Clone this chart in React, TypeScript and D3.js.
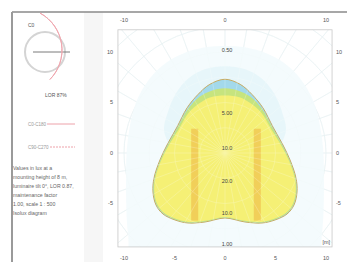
import React from "react";
import * as d3 from "d3";

const W = 347;
const H = 262;

// isolux contours, metres (x, y)
const outerContour: [number, number][] = [
  [0, 10.6], [3.5, 10.1], [6.5, 8.4], [8.6, 5.5], [9.6, 1.5], [9.8, -3], [9.6, -8], [9.0, -11],
  [0, -11.5], [-9.0, -11], [-9.6, -8], [-9.8, -3], [-9.6, 1.5], [-8.6, 5.5], [-6.5, 8.4], [-3.5, 10.1],
];
const haloContour: [number, number][] = [
  [0, 8.6], [2.0, 8.3], [3.6, 7.4], [4.8, 6.0], [5.6, 4.2], [6.0, 2.0], [4.5, 0],
  [-4.5, 0], [-6.0, 2.0], [-5.6, 4.2], [-4.8, 6.0], [-3.6, 7.4], [-2.0, 8.3],
];
const blueContour: [number, number][] = [
  [0, 7.3], [1.5, 6.8], [2.67, 5.8], [3.76, 4.46], [4.75, 2.57], [5.74, 0.79],
  [6.44, -0.69], [7.03, -2.48], [7.13, -3.86], [6.83, -5.15], [6.14, -6.04], [4.95, -6.63],
  [3.66, -6.93], [1.98, -6.83], [0, -6.44], [-1.98, -6.83], [-3.66, -6.93], [-4.95, -6.63],
  [-6.14, -6.04], [-6.83, -5.15], [-7.13, -3.86], [-7.03, -2.48], [-6.44, -0.69], [-5.74, 0.79],
  [-4.75, 2.57], [-3.76, 4.46], [-2.67, 5.8], [-1.5, 6.8],
];
const greenContour: [number, number][] = [
  [0, 6.4], [1.4, 6.15], [2.55, 5.55], [3.65, 4.38], [4.7, 2.5], [5.68, 0.75],
  [6.38, -0.7], [6.97, -2.48], [7.07, -3.86], [6.77, -5.12], [6.08, -6.0], [4.92, -6.58],
  [3.64, -6.88], [1.98, -6.78], [0, -6.39], [-1.98, -6.78], [-3.64, -6.88], [-4.92, -6.58],
  [-6.08, -6.0], [-6.77, -5.12], [-7.07, -3.86], [-6.97, -2.48], [-6.38, -0.7], [-5.68, 0.75],
  [-4.7, 2.5], [-3.65, 4.38], [-2.55, 5.55], [-1.4, 6.15],
];
const yellowContour: [number, number][] = [
  [0, 5.7], [1.5, 5.5], [2.5, 4.95], [3.58, 4.0], [4.6, 2.3], [5.6, 0.7],
  [6.3, -0.7], [6.9, -2.48], [7.0, -3.86], [6.7, -5.08], [6.02, -5.95], [4.88, -6.52],
  [3.62, -6.82], [1.98, -6.72], [0, -6.33], [-1.98, -6.72], [-3.62, -6.82], [-4.88, -6.52],
  [-6.02, -5.95], [-6.7, -5.08], [-7.0, -3.86], [-6.9, -2.48], [-6.3, -0.7], [-5.6, 0.7],
  [-4.6, 2.3], [-3.58, 4.0], [-2.5, 4.95], [-1.5, 5.5],
];
const bandX = [-3.0, 3.2];
const bandTop = [2.4, 2.4];
const bandBottom = [-6.7, -6.7];

const bottomTicks = [-10, -5, 0, 5, 10];
const topTicks = [-10, 0, 10];
const sideTicks = [10, 5, 0, -5];
const contourLabels = ["0.50", "5.00", "10.0", "20.0", "10.0", "1.00"];
const contourLabelY = [10.2, 4.0, 0.5, -2.8, -5.9, -9.0];
const noteLines = [
  "Values in lux at a",
  "mounting height of 8 m,",
  "luminaire tilt 0°, LOR 0.87,",
  "maintenance factor",
  "1.00, scale 1 : 500",
  "Isolux diagram",
];

const App: React.FC = () => {
  const x = d3.scaleLinear().domain([-10, 10]).range([124, 326]);
  const y = d3.scaleLinear().domain([0, 10]).range([153, 52]);
  const unit = x(1) - x(0);
  const bx0 = x(-10.6), bx1 = x(10.6), by0 = y(12.2), by1 = y(-9.3);

  const contour = d3
    .line<[number, number]>()
    .x((d) => x(d[0]))
    .y((d) => y(d[1]))
    .curve(d3.curveCatmullRomClosed.alpha(0.5));

  const rays = d3.range(0, 360, 10);
  const rings = d3.range(2.5, 25, 2.5);
  const font = "Liberation Sans, Arial, sans-serif";
  const lab = { fontSize: 5.5, fill: "#555", fontFamily: font } as const;

  const grid = (stroke: string, op: number) => (
    <g clipPath="url(#box)" stroke={stroke} strokeWidth={0.6} fill="none" opacity={op}>
      {rays.map((a) => (
        <line
          key={"r" + a}
          x1={x(0)}
          y1={y(0)}
          x2={x(0) + Math.sin((a * Math.PI) / 180) * 25 * unit}
          y2={y(0) - Math.cos((a * Math.PI) / 180) * 25 * unit}
        />
      ))}
      {rings.map((r) => (
        <circle key={"c" + r} cx={x(0)} cy={y(0)} r={r * unit} />
      ))}
    </g>
  );

  return (
    <svg width={W} height={H} style={{ position: "absolute", left: 0, top: 0, background: "#fff" }}>
      <defs>
        <clipPath id="box">
          <rect x={bx0} y={by0} width={bx1 - bx0} height={by1 - by0} />
        </clipPath>
      </defs>

      {/* left info panel */}
      <rect x={84} y={12} width={19} height={H - 12} fill="#f6f6f6" />
      <line x1={12} y1={12} x2={W} y2={12} stroke="#8a8a8a" strokeWidth={1.5} />
      <line x1={12} y1={12} x2={12} y2={H} stroke="#9a9a9a" strokeWidth={2} />
      <circle cx={45} cy={52} r={20} fill="none" stroke="#d4d4d4" strokeWidth={2} />
      <line x1={33} y1={52} x2={70} y2={52} stroke="#7a7a7a" strokeWidth={1} />
      <path
        d={d3.arc()({ innerRadius: 42, outerRadius: 42, startAngle: 0.5, endAngle: 2.35 }) as string}
        transform="translate(20,50)"
        fill="none"
        stroke="#f0a8b0"
        strokeWidth={1}
      />
      <text x={28} y={27} {...lab} fontSize={5}>C0</text>
      <text x={45} y={97} {...lab} fontSize={5}>LOR 87%</text>
      <text x={28} y={126} {...lab} fontSize={4.5} fill="#999">C0-C180</text>
      <line x1={47} y1={124} x2={75} y2={124} stroke="#e88a94" strokeWidth={0.8} />
      <text x={28} y={149} {...lab} fontSize={4.5} fill="#999">C90-C270</text>
      <line x1={50} y1={147} x2={75} y2={147} stroke="#e88a94" strokeWidth={0.8} strokeDasharray="2,1" />
      {noteLines.map((t, i) => (
        <text key={t} x={13} y={170 + i * 9} fontSize={5.2} fill="#666" fontFamily={font}>
          {t}
        </text>
      ))}

      {/* plot */}
      <rect x={bx0} y={by0} width={bx1 - bx0} height={by1 - by0} fill="#fff" />
      {grid("#d3e6ea", 0.9)}
      <g clipPath="url(#box)">
        <path d={contour(outerContour) as string} fill="#f1fafc" opacity={0.8} />
        <path d={contour(haloContour) as string} fill="#e3f4f8" opacity={0.75} />
        <path d={contour(blueContour) as string} fill="#a3d9ec" stroke="#c8ac62" strokeWidth={1} />
        <path d={contour(greenContour) as string} fill="#c6e47e" />
        <path d={contour(yellowContour) as string} fill="#f5f076" />
        {bandX.map((bx, i) => (
          <line
            key={"b" + i}
            x1={x(bx)}
            y1={y(bandTop[i])}
            x2={x(bx)}
            y2={y(bandBottom[i])}
            stroke="#efb040"
            strokeWidth={7}
            opacity={0.5}
          />
        ))}
      </g>
      {grid("#ffffff", 0.35)}
      <rect x={bx0} y={by0} width={bx1 - bx0} height={by1 - by0} fill="none" stroke="#c8c8c8" strokeWidth={0.8} />

      {contourLabels.map((t, i) => (
        <text key={"cl" + i} x={x(0.2)} y={y(contourLabelY[i])} {...lab} fill="#444" textAnchor="middle" dy="0.35em">
          {t}
        </text>
      ))}
      {bottomTicks.map((v) => (
        <text key={"bt" + v} x={x(v)} y={260} {...lab} textAnchor="middle">
          {v}
        </text>
      ))}
      {topTicks.map((v) => (
        <text key={"tt" + v} x={x(v)} y={22} {...lab} textAnchor="middle">
          {v}
        </text>
      ))}
      {sideTicks.map((v) => (
        <g key={"st" + v}>
          <text x={113} y={y(v)} {...lab} textAnchor="end" dy="0.35em">
            {v}
          </text>
          <text x={336} y={y(v)} {...lab} dy="0.35em">
            {v}
          </text>
        </g>
      ))}
      <text x={bx1 - 2} y={by1 - 3} {...lab} textAnchor="end">[m]</text>
    </svg>
  );
};

export default App;
